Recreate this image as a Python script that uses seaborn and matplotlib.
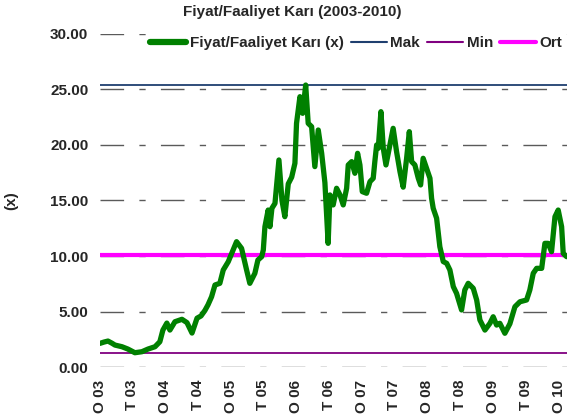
import pandas as pd
import seaborn as sns
import matplotlib.pyplot as plt
from matplotlib.lines import Line2D

# Fiyat/Faaliyet Karı series
dates = [
    "2003-01-03", "2003-01-26", "2003-02-17", "2003-03-11", "2003-03-28", "2003-05-06",
    "2003-06-08", "2003-07-17", "2003-08-25", "2003-09-28", "2003-11-06", "2003-12-03",
    "2003-12-20", "2004-01-11", "2004-01-28", "2004-02-25", "2004-04-04", "2004-05-02",
    "2004-05-30", "2004-06-27", "2004-07-19", "2004-08-10", "2004-08-27", "2004-09-16",
    "2004-10-05", "2004-11-01", "2004-11-20", "2004-12-18", "2005-01-14", "2005-02-02",
    "2005-03-02", "2005-03-30", "2005-04-17", "2005-05-15", "2005-06-01", "2005-06-22",
    "2005-07-01", "2005-07-10", "2005-07-28", "2005-08-07", "2005-08-18", "2005-09-04",
    "2005-09-26", "2005-10-13", "2005-10-29", "2005-11-17", "2005-12-06", "2005-12-24",
    "2006-01-02", "2006-01-21", "2006-02-05", "2006-02-22", "2006-03-08", "2006-03-27",
    "2006-04-14", "2006-05-03", "2006-05-22", "2006-06-09", "2006-06-27", "2006-07-07",
    "2006-07-25", "2006-08-13", "2006-09-01", "2006-09-19", "2006-10-08", "2006-10-17",
    "2006-11-05", "2006-11-23", "2006-12-08", "2006-12-21", "2007-01-03", "2007-01-27",
    "2007-02-15", "2007-03-05", "2007-03-14", "2007-03-24", "2007-04-02", "2007-04-17",
    "2007-04-30", "2007-05-15", "2007-06-02", "2007-06-24", "2007-07-13", "2007-08-01",
    "2007-08-19", "2007-09-07", "2007-09-22", "2007-10-05", "2007-10-23", "2007-11-11",
    "2007-11-24", "2007-12-08", "2007-12-27", "2008-01-15", "2008-01-24", "2008-02-02",
    "2008-02-21", "2008-03-10", "2008-03-29", "2008-04-17", "2008-05-05", "2008-05-24",
    "2008-06-11", "2008-07-09", "2008-07-27", "2008-08-15", "2008-09-12", "2008-10-01",
    "2008-10-19", "2008-11-16", "2008-12-14", "2009-01-01", "2009-01-20", "2009-02-07",
    "2009-03-07", "2009-04-04", "2009-05-02", "2009-05-30", "2009-07-06", "2009-07-24",
    "2009-08-12", "2009-08-31", "2009-09-28", "2009-10-16", "2009-11-03", "2009-11-22",
    "2009-12-11", "2009-12-29", "2010-01-17", "2010-01-26", "2010-02-14",
]
values = [
    2.13, 2.25, 2.34, 2.15, 1.98, 1.83,
    1.62, 1.29, 1.38, 1.62, 1.83, 2.28,
    3.33, 3.96, 3.33, 4.08, 4.30, 4.00,
    3.06, 4.40, 4.60, 5.10, 5.60, 6.33,
    7.39, 7.54, 8.74, 9.49, 10.54, 11.29,
    10.69, 8.74, 7.54, 8.44, 9.64, 9.94,
    10.54, 12.64, 14.14, 12.64, 14.30, 14.74,
    18.65, 15.00, 13.54, 16.50, 17.10, 18.35,
    21.95, 24.35, 22.85, 25.40, 21.95, 21.65,
    18.05, 21.35, 19.25, 16.60, 11.14, 15.50,
    14.60, 16.10, 15.50, 14.60, 16.10, 18.20,
    18.50, 17.45, 19.25, 18.20, 15.80, 15.65,
    16.70, 17.00, 18.50, 20.00, 19.70, 23.00,
    19.70, 18.20, 19.70, 21.50, 19.40, 17.60,
    16.20, 18.80, 21.20, 18.50, 18.20, 17.00,
    16.40, 18.80, 17.90, 17.00, 15.20, 14.30,
    13.40, 10.84, 9.50, 9.34, 8.74, 7.24,
    6.64, 5.14, 6.94, 7.54, 7.09, 6.04,
    4.24, 3.33, 3.94, 4.53, 3.78, 3.94,
    3.04, 3.90, 5.43, 5.88, 6.04, 6.94,
    8.44, 8.89, 8.89, 11.14, 11.14, 10.39,
    13.54, 14.14, 12.64, 10.24, 9.94,
]

mak = 25.4
min_val = 1.25
ort = 10.1

tick_dates = ["2003-01-01", "2003-07-01", "2004-01-01", "2004-07-01", "2005-01-01",
              "2005-07-01", "2006-01-01", "2006-07-01", "2007-01-01", "2007-07-01",
              "2008-01-01", "2008-07-01", "2009-01-01", "2009-07-01", "2010-01-01"]
tick_labels = ["O 03", "T 03", "O 04", "T 04", "O 05", "T 05", "O 06", "T 06",
               "O 07", "T 07", "O 08", "T 08", "O 09", "T 09", "O 10"]
y_ticks = [0, 5, 10, 15, 20, 25, 30]

sns.set_style("white")
plt.rcParams["font.family"] = ["Liberation Sans", "DejaVu Sans"]
plt.rcParams["font.weight"] = "bold"

df = pd.DataFrame({"tarih": pd.to_datetime(dates), "deger": values})

fig = plt.figure(figsize=(5.67, 4.19), dpi=100)
ax = fig.add_axes([0.1755, 0.124, 0.8245, 0.795])

# grid lines (long dash / short dash like the original)
for yv in y_ticks:
    ax.axhline(yv, color="#5a5a5a", linewidth=1.0, linestyle=(0, (17, 11, 4.5, 11)), zorder=1)

ax.axhline(mak, color="#1f3f6f", linewidth=1.3, zorder=2)
ax.axhline(min_val, color="#800080", linewidth=1.3, zorder=2)
ax.axhline(ort, color="#ff00ff", linewidth=3.0, zorder=2)

sns.lineplot(data=df, x="tarih", y="deger", color="#008000", linewidth=3.8, ax=ax, zorder=3)
ax.lines[-1].set_solid_joinstyle("round")

ax.set_xlim(pd.Timestamp("2003-01-01"), pd.Timestamp("2010-02-16"))
ax.set_ylim(0, 30)
ax.set_yticks(y_ticks)
ax.set_yticklabels([f"{v:.2f}" for v in y_ticks], fontsize=11, fontweight="bold")
ax.set_xticks(pd.to_datetime(tick_dates))
ax.set_xticklabels(tick_labels, rotation=90, fontsize=11, fontweight="bold")
ax.tick_params(axis="y", length=0, pad=8)
ax.tick_params(axis="x", length=0, pad=9)
ax.set_xlabel("")
ax.set_ylabel("(x)", fontsize=11, fontweight="bold")
ax.yaxis.set_label_coords(-0.174, 0.5)
for s in ax.spines.values():
    s.set_visible(False)

fig.text(0.516, 0.971, "Fiyat/Faaliyet Karı (2003-2010)", ha="center", va="center",
         fontsize=11, fontweight="bold")

handles = [
    Line2D([], [], color="#008000", linewidth=4.5),
    Line2D([], [], color="#1f3f6f", linewidth=1.5),
    Line2D([], [], color="#800080", linewidth=1.5),
    Line2D([], [], color="#ff00ff", linewidth=3.0),
]
labels = ["Fiyat/Faaliyet Karı (x)", "Mak", "Min", "Ort"]
leg = fig.legend(handles, labels, loc="center right", bbox_to_anchor=(1.0, 0.897),
                 ncol=4, frameon=True, facecolor="white", edgecolor="none", framealpha=1,
                 fontsize=11, handlelength=2.35, handletextpad=0.25, columnspacing=0.45,
                 borderpad=0.3, borderaxespad=0.0)
for t in leg.get_texts():
    t.set_fontweight("bold")

fig.savefig("out.png", dpi=100)
